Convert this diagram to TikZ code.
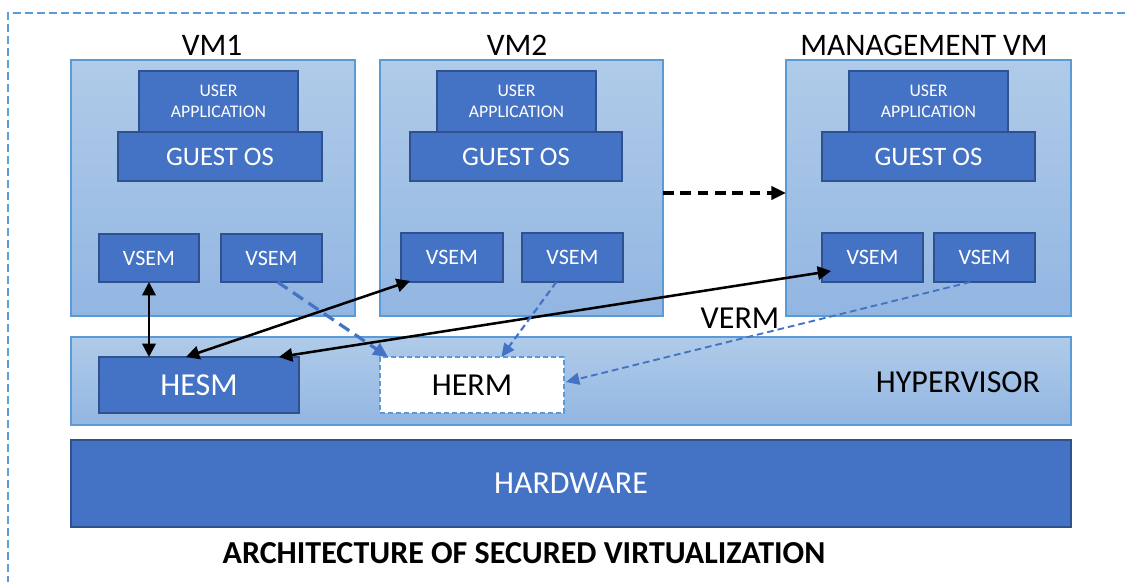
\documentclass[tikz,border=0pt]{standalone}
\usepackage{fontspec}
\setmainfont{Carlito}
\usetikzlibrary{arrows.meta,calc}

\definecolor{darkfill}{HTML}{4472C4}
\definecolor{darkline}{HTML}{2F528F}
\definecolor{lighttop}{HTML}{B0CBE9}
\definecolor{lightbot}{HTML}{92B6E2}
\definecolor{lightline}{HTML}{5B9BD5}
\definecolor{linkblue}{HTML}{4472C4}

% box given by its corners in pixel units
\newcommand\pbox[7]{%
  \pgfmathsetmacro\bw{(#5-#3)*0.75}%
  \pgfmathsetmacro\bh{(#6-#4)*0.75}%
  \node[#2, minimum width=\bw pt, minimum height=\bh pt] (#1) at ({(#3+#5)/2},{(#4+#6)/2}) {#7};}

\tikzset{
  every node/.style={inner sep=0pt, outer sep=0pt},
  vmbox/.style={draw=lightline, line width=0.8pt, top color=lighttop, bottom color=lightbot},
  darkbox/.style={draw=darkline, line width=1.5pt, fill=darkfill, text=white},
  ermbox/.style={draw=lightline, line width=1.5pt, fill=white, dash pattern=on 4pt off 2pt},
  label/.style={font=\fontsize{23.5}{27}\selectfont, text=black},
  small/.style={font=\fontsize{13.3}{15.8}\selectfont, align=center},
  mid/.style={font=\fontsize{20}{24}\selectfont},
  vsemfont/.style={font=\fontsize{16.5}{20}\selectfont},
  big/.style={font=\fontsize{24}{28}\selectfont},
  secure/.style={line width=1.9pt, {Triangle[length=10pt,width=10pt]}-{Triangle[length=10pt,width=10pt]}},
  repthick/.style={draw=linkblue, line width=2.4pt, dash pattern=on 9pt off 5pt, -{Triangle[length=11pt,width=10pt]}},
  repthin/.style={draw=linkblue, line width=1.6pt, dash pattern=on 5pt off 3pt, -{Triangle[length=10pt,width=9pt]}},
  migrate/.style={line width=2.5pt, dash pattern=on 8pt off 5pt, -{Triangle[length=11pt,width=10pt]}},
}

\begin{document}
\begin{tikzpicture}[x=0.75pt, y=-0.75pt]
\useasboundingbox (0,0) rectangle (1125,582);

% dashed frame
\coordinate (frameTR) at (1125,13);
\coordinate (frameTL) at (8,13);
\coordinate (frameBL) at (8,582);
\draw[lightline, line width=1.5pt, dash pattern=on 6pt off 3pt] (frameTR) -- (frameTL) -- (frameBL);

% virtual machines
\pbox{vm1}{vmbox}{71}{60}{355}{316}{}
\pbox{vm2}{vmbox}{380}{60}{663}{316}{}
\pbox{mvm}{vmbox}{786}{60}{1071}{316}{}

\node[label] (vm1lab) at (212,45) {VM1};
\node[label] (vm2lab) at (517,45) {VM2};
\node[label] (mvmlab) at (924,45) {MANAGEMENT VM};

% guest stacks
\pbox{ua1}{darkbox,small}{139}{71}{298}{132}{USER\\APPLICATION}
\pbox{os1}{darkbox,mid}{118}{132}{322}{181}{GUEST OS}
\pbox{ua2}{darkbox,small}{437}{71}{596}{132}{USER\\APPLICATION}
\pbox{os2}{darkbox,mid}{410}{132}{622}{181}{GUEST OS}
\pbox{ua3}{darkbox,small}{849}{71}{1008}{132}{USER\\APPLICATION}
\pbox{os3}{darkbox,mid}{822}{132}{1035}{181}{GUEST OS}

% VSEM modules
\pbox{v1a}{darkbox,vsemfont}{99}{234}{199}{282}{VSEM}
\pbox{v1b}{darkbox,vsemfont}{221}{234}{322}{282}{VSEM}
\pbox{v2a}{darkbox,vsemfont}{401}{233}{503}{282}{VSEM}
\pbox{v2b}{darkbox,vsemfont}{522}{233}{623}{282}{VSEM}
\pbox{m1}{darkbox,vsemfont}{822}{233}{923}{282}{VSEM}
\pbox{m2}{darkbox,vsemfont}{934}{233}{1035}{282}{VSEM}

% hypervisor layer
\pbox{hyp}{vmbox}{71}{337}{1071}{425}{}
\node[big] (hyplab) at (958,382) {HYPERVISOR};
\pbox{hesm}{darkbox,big}{99}{357}{299}{413}{HESM}
\pbox{herm}{ermbox,big}{380}{357}{564}{413}{HERM}
\node[big] (verm) at (740,318) {VERM};

% hardware layer
\pbox{hw}{darkbox,big}{71}{440}{1071}{527}{HARDWARE}

% caption
\node[font=\fontsize{24}{28}\selectfont\bfseries] (title) at (524,553) {ARCHITECTURE OF SECURED VIRTUALIZATION};

% secure channels between VSEMs and HESM
\draw[secure] (v1a.south) -- (hesm.north -| v1a.south);
\draw[secure] ($(hesm.north west)!0.435!(hesm.north east)$) -- ($(v2a.south west)+(9,-1)$);
\draw[secure] ($(hesm.north west)!0.9!(hesm.north east)$) -- ($(m1.south west)+(9,-11)$);

% reports to HERM
\draw[repthick] ($(v1b.south west)!0.56!(v1b.south east)$) -- ($(herm.north west)+(8,0)$);
\draw[repthin] ($(v2b.south west)!0.34!(v2b.south east)$) -- ($(herm.north west)!0.66!(herm.north east)$);
\draw[repthin, line width=1.4pt] ($(m2.south west)!0.36!(m2.south east)$) -- ($(herm.east)+(2,-3)$);

% migration between VM2 and the management VM
\coordinate (migsrc) at ($(vm2.east)+(0,5)$);
\draw[migrate] (migsrc) -- (migsrc -| mvm.west);
\end{tikzpicture}
\end{document}
